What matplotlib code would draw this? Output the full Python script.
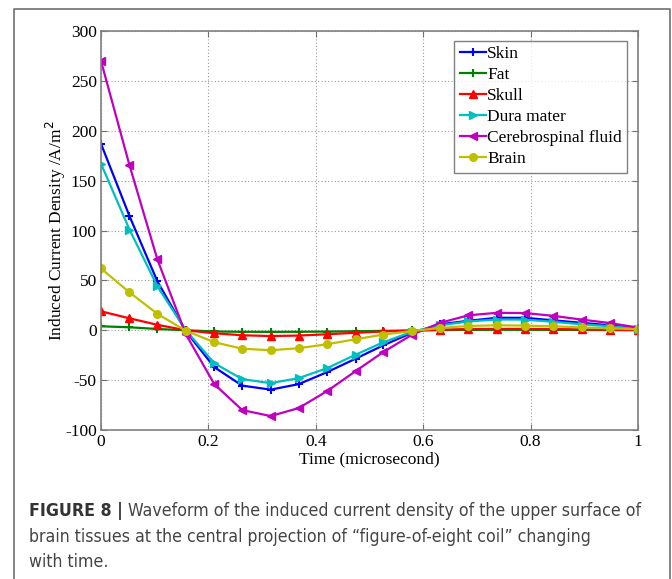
import matplotlib
import matplotlib.pyplot as plt
from matplotlib.lines import Line2D
from matplotlib import font_manager

matplotlib.use('Agg')
plt.rcParams['axes.unicode_minus'] = False

# time samples (microsecond)
time_us = [0.0, 0.053, 0.105, 0.158, 0.211, 0.263, 0.316, 0.368, 0.421, 0.474,
           0.526, 0.579, 0.632, 0.684, 0.737, 0.789, 0.842, 0.895, 0.947, 1.0]

# induced current density per tissue (A/m^2)
skin = [187, 114.5, 49, -1, -37, -55.5, -59.5, -54, -42, -28.5,
        -15, -2.5, 6, 9.5, 12.5, 12.5, 10, 7.5, 5, 2.3]
fat = [4, 3, 1.3, 0, -1.2, -1.5, -1.6, -1.5, -1.3, -1,
       -0.6, -0.2, 0.2, 0.4, 0.5, 0.5, 0.4, 0.3, 0.2, 0.1]
skull = [19, 12, 5.5, 0, -3, -5, -5.8, -5.3, -4, -2.5,
         -1.2, -0.3, 0.6, 1.2, 1.4, 1.4, 1.2, 0.9, 0.6, 0.3]
dura_mater = [167, 101, 44, 0, -33, -49, -53, -48, -38, -24.5,
              -12, -1.5, 5, 8.8, 10.8, 10.7, 8.5, 6, 4, 1.7]
csf = [270, 165.5, 71, -4, -54, -80, -86, -78, -61, -41,
       -21.7, -4.5, 7.5, 15, 17.5, 17.3, 14.5, 10.7, 7.3, 2.7]
brain = [62, 38, 16.5, -0.5, -12, -18.5, -20, -18, -14, -9,
         -4.3, -0.7, 2.3, 4.3, 5, 4.7, 4, 2.8, 2, 1]

tissue_names = ['Skin', 'Fat', 'Skull', 'Dura mater', 'Cerebrospinal fluid', 'Brain']
tissue_values = [skin, fat, skull, dura_mater, csf, brain]

x_ticks = [0, 0.2, 0.4, 0.6, 0.8, 1]
x_tick_labels = ['0', '0.2', '0.4', '0.6', '0.8', '1']
y_ticks = [-100, -50, 0, 50, 100, 150, 200, 250, 300]

caption_head = 'FIGURE 8 |'
caption_lines = [
    ' Waveform of the induced current density of the upper surface of',
    'brain tissues at the central projection of \u201cfigure-of-eight coil\u201d changing',
    'with time.',
]

# matlab-ish line styles
styles = [
    dict(color=(0, 0, 1), marker='+', ms=5.5, mew=1.5),
    dict(color=(0, 0.5, 0), marker='+', ms=5.5, mew=1.5),
    dict(color=(1, 0, 0), marker='^', ms=5.5),
    dict(color=(0, 0.75, 0.75), marker='>', ms=5.5),
    dict(color=(0.75, 0, 0.75), marker='<', ms=5.5),
    dict(color=(0.75, 0.75, 0), marker='o', ms=5.5),
]

serif = 'Liberation Serif'

# narrow sans for the caption if one is around, otherwise plain sans
caption_prop = None
caption_bold = None
for f in font_manager.fontManager.ttflist:
    fn = f.fname.lower()
    if 'condensed' in fn or 'narrow' in fn:
        if f.style != 'normal':
            continue
        if f.weight in ('bold', 700) and caption_bold is None:
            caption_bold = font_manager.FontProperties(fname=f.fname)
        elif f.weight in ('normal', 'regular', 400) and caption_prop is None:
            caption_prop = font_manager.FontProperties(fname=f.fname)
if caption_prop is None:
    caption_prop = font_manager.FontProperties(family='Roboto')
if caption_bold is None:
    caption_bold = caption_prop.copy()
    caption_bold.set_weight('bold')

fig = plt.figure(figsize=(6.72, 5.79), dpi=100)
ax = fig.add_axes([0.1503, 0.2573, 0.7991, 0.6891])

for name, values, st in zip(tissue_names, tissue_values, styles):
    ax.plot(time_us, values, lw=1.6, label=name, mfc=st['color'], **st)

ax.set_xlim(0, 1)
ax.set_ylim(-100, 300)
ax.set_xticks(x_ticks)
ax.set_xticklabels(x_tick_labels)
ax.set_yticks(y_ticks)
ax.grid(True, ls=(0, (1, 2)), color='#9a9a9a', lw=0.8)
ax.tick_params(direction='in', top=True, right=True, length=4, color='#707070',
               labelsize=12.5, pad=3)
for lab in ax.get_xticklabels() + ax.get_yticklabels():
    lab.set_family(serif)
for sp in ax.spines.values():
    sp.set_color('#808080')
    sp.set_linewidth(1.2)

ax.set_xlabel('Time (microsecond)', family=serif, fontsize=12.5, labelpad=1)
ax.set_ylabel('Induced Current Density /A/m$^2$', family=serif, fontsize=12.5, labelpad=-2)

leg = ax.legend(loc='upper right', bbox_to_anchor=(0.98, 0.975), prop={'family': serif, 'size': 12.5},
                frameon=True, fancybox=False, handlelength=1.5, handletextpad=0.1,
                borderpad=0.3, labelspacing=0.28, borderaxespad=0)
leg.get_frame().set_edgecolor('#606060')
leg.get_frame().set_linewidth(1.0)

# outer frame around chart and caption
W, H = 672, 579
frame = Line2D([14 / W, 14 / W, 670 / W, 670 / W], [-0.1, 1 - 9 / H, 1 - 9 / H, -0.1],
               transform=fig.transFigure, color='#707070', lw=1.2)
fig.add_artist(frame)

# caption, sized so the first line runs from x=29 to x=643
x0 = 29 / W
line_y = [511, 537, 562]
head = fig.text(x0, 1 - line_y[0] / H, caption_head, fontproperties=caption_bold,
                color='#333333', va='center')
first = fig.text(0, 1 - line_y[0] / H, caption_lines[0], fontproperties=caption_prop,
                 color='#444444', va='center')
rest = [fig.text(x0, 1 - y / H, s, fontproperties=caption_prop, color='#444444', va='center')
        for s, y in zip(caption_lines[1:], line_y[1:])]

size = 15.0
renderer = fig.canvas.get_renderer()
for _ in range(3):
    for t in [head, first] + rest:
        t.set_fontsize(size)
    w = head.get_window_extent(renderer).width + first.get_window_extent(renderer).width
    size *= 614.0 / w
for t in [head, first] + rest:
    t.set_fontsize(size)
first.set_x(head.get_window_extent(renderer).x1 / W)

fig.savefig('out.png', dpi=100)
